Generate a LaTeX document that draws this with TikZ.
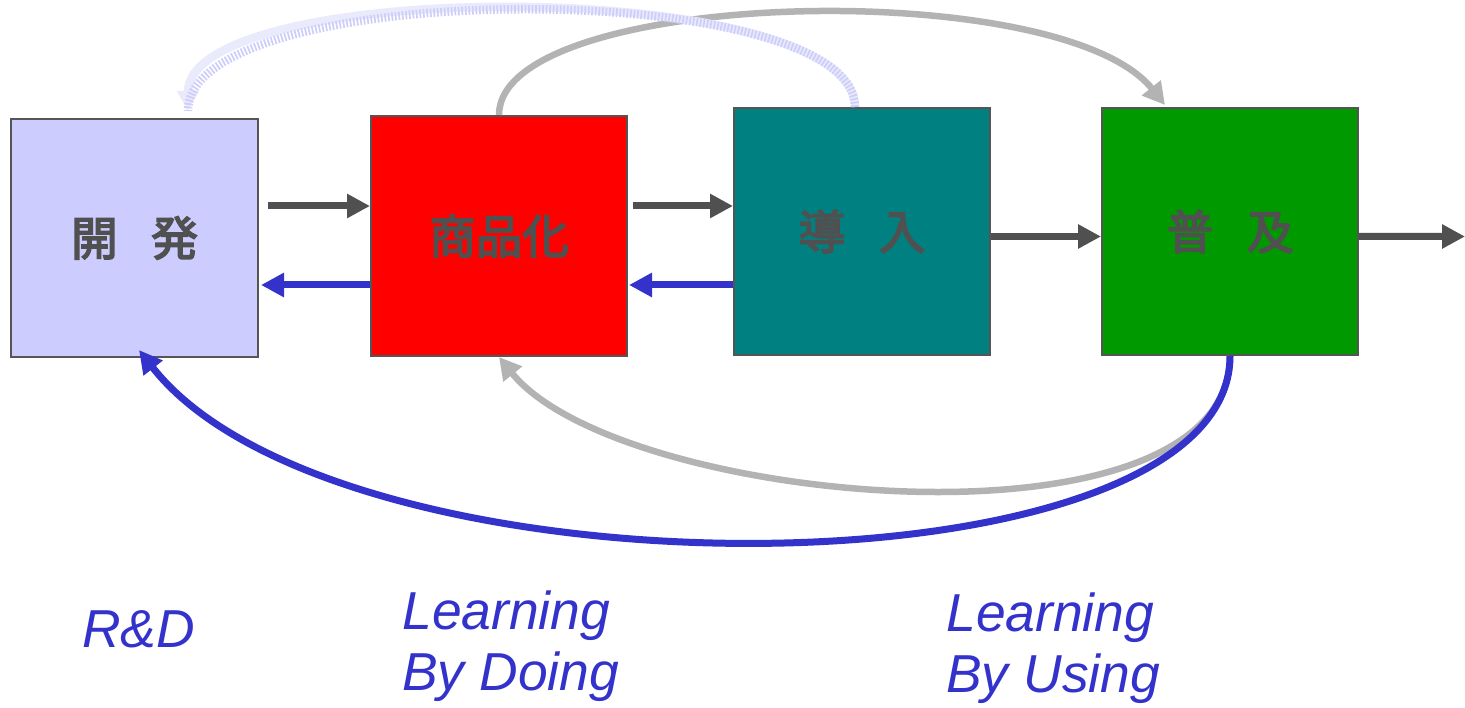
\documentclass[tikz,border=0pt]{standalone}
\usepackage{fontspec}
\setmainfont{Liberation Sans}
\newfontfamily\jpfont{Noto Sans CJK JP}[FakeBold=3.5]
\usepackage{tikz}
\usetikzlibrary{arrows.meta, positioning, calc}

\definecolor{colDev}{RGB}{204, 204, 255}
\definecolor{colIntro}{RGB}{0, 128, 128}
\definecolor{colSpread}{RGB}{0, 153, 0}
\definecolor{colEdge}{RGB}{85, 85, 85}
\definecolor{colLabel}{RGB}{80, 80, 80}
\definecolor{colBack}{RGB}{51, 51, 204}
\definecolor{colLoop}{RGB}{179, 179, 179}
\definecolor{colHatch}{RGB}{206, 206, 250}
\definecolor{colHatchLight}{RGB}{234, 234, 253}

\begin{document}
\begin{tikzpicture}[
    stage/.style={draw=colEdge, line width=0.04cm, minimum width=5.12cm, minimum height=4.94cm,
        font=\jpfont\fontsize{26.5}{30}\selectfont, text=colLabel},
    fwd/.style={draw=colLabel, line width=0.14cm, -{Triangle[length=0.46cm, width=0.46cm]}},
    back/.style={draw=colBack, line width=0.14cm, -{Triangle[length=0.46cm, width=0.46cm]}},
    loopg/.style={draw=colLoop, line width=0.13cm, -{Triangle[length=0.44cm, width=0.46cm]}},
    loopb/.style={draw=colBack, line width=0.14cm, -{Triangle[length=0.46cm, width=0.46cm]}},
    loopd/.style={draw=colHatchLight, line width=0.17cm, -{Triangle[length=0.4cm, width=0.42cm]},
        postaction={draw=colHatch, line width=0.17cm, dash pattern=on 1pt off 1pt, -}},
    learn/.style={inner sep=0pt, text=colBack, align=left,
        font=\itshape\fontsize{30.4}{34.7}\selectfont}
]
    \useasboundingbox (0, 0) rectangle (29.3, 14.14);

    % --- four stages ---
    \node[stage, fill=colDev, minimum width=4.94cm, minimum height=4.76cm] (kaihatsu) at (2.69, 9.38) {開\hspace{0.72em}発};
    \node[stage, fill=red, minimum height=4.8cm] (shohin) at (9.98, 9.42) {商品化};
    \node[stage, fill=colIntro] (dounyu) at (17.24, 9.51) {導\hspace{0.72em}入};
    \node[stage, fill=colSpread] (fukyu) at (24.6, 9.51) {普\hspace{0.72em}及};
    \coordinate (exit) at (29.3, 9.41);

    % forward flow
    \draw[fwd] ($(kaihatsu.east |- shohin.west)+(0.18,0.6)$) -- ($(shohin.west)+(0,0.6)$);
    \draw[fwd] ($(shohin.east)+(0.1,0.6)$) -- ($(dounyu.west |- shohin.west)+(0,0.6)$);
    \draw[fwd] ($(dounyu.east)+(0,-0.1)$) -- ($(fukyu.west)+(0,-0.1)$);
    \draw[fwd] ($(fukyu.east)+(0,-0.1)$) -- (exit);

    % feedback to the left
    \draw[back] ($(shohin.west)+(0,-0.98)$) -- ($(kaihatsu.east |- shohin.west)+(0.04,-0.98)$);
    \draw[back] ($(dounyu.west |- shohin.west)+(0,-0.98)$) -- ($(shohin.east)+(0.02,-0.98)$);

    % long arcs over and under the boxes
    \draw[loopg] (shohin.north) .. controls +(0,2.52) and +(-2.1,2.62) .. ($(fukyu.north)+(-1.3,0.04)$);
    \draw[loopg] (fukyu.south) .. controls +(0,-4.1) and +(2.42,-3.0) .. (shohin.south);
    \draw[loopb] (fukyu.south) .. controls +(0,-4.9) and +(4.02,-5.14) .. ($(kaihatsu.south)+(0.09,0.16)$);
    \draw[loopd] ($(dounyu.north)+(-0.14,0)$) .. controls +(0,2.62) and +(0,2.7) .. ($(kaihatsu.north)+(1.07,0.14)$);

    % labels below
    \node[learn, anchor=base west] (rd) at (1.64, 1.2) {R\&D};
    \node[learn, anchor=north west] (doing) at (8.04, 2.34) {Learning\\By Doing};
    \node[learn, anchor=north west] (using) at (18.92, 2.3) {Learning\\By Using};
\end{tikzpicture}
\end{document}
